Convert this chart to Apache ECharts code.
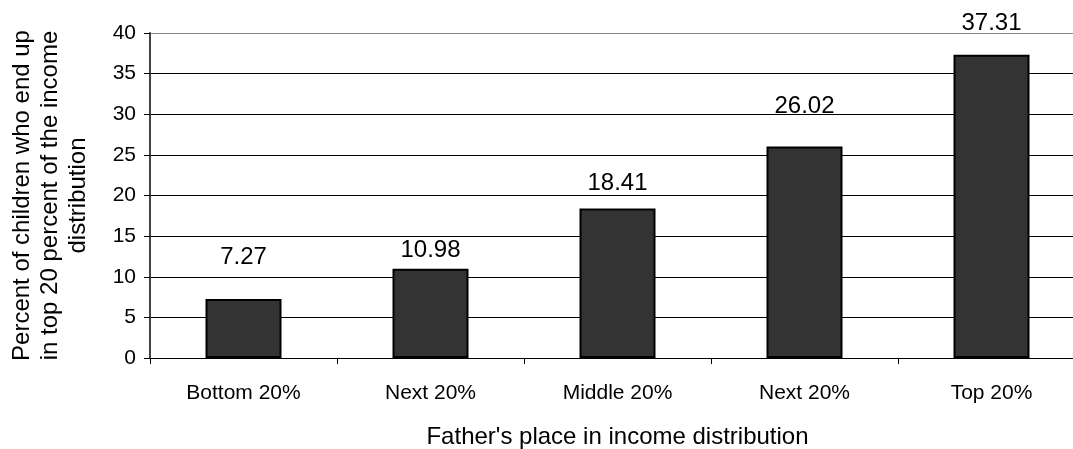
<!DOCTYPE html>
<html>
<head>
<meta charset="utf-8">
<script src="https://cdn.jsdelivr.net/npm/echarts@6/dist/echarts.min.js"></script>
<style>
  html, body { margin: 0; padding: 0; background: #fff; }
  #chart { width: 1073px; height: 449px; }
</style>
</head>
<body>
<div id="chart"></div>
<script>
// father's income quintile
var categories = ['Bottom 20%', 'Next 20%', 'Middle 20%', 'Next 20%', 'Top 20%'];
// percent of children ending up in top 20%
var values = [7.27, 10.98, 18.41, 26.02, 37.31];
var yTicks = [0, 5, 10, 15, 20, 25, 30, 35, 40];

// the original labels sit at uneven heights above the bars
var labelLift = [30, 6, 13, 28, 19];

var chart = echarts.init(document.getElementById('chart'));
var font = 'Arial, "Liberation Sans", sans-serif';

var barData = values.map(function (v, i) {
    return { value: v, label: { offset: [0, -labelLift[i]] } };
});

var option = {
    animation: false,
    backgroundColor: '#fff',
    grid: { left: 150, right: -12, top: 33, bottom: 91, containLabel: false, outerBoundsMode: 'none' },
    xAxis: {
        type: 'category',
        data: categories,
        name: "Father's place in income distribution",
        nameLocation: 'middle',
        nameGap: 67,
        nameTextStyle: { color: '#000', fontSize: 24, fontFamily: font },
        axisLine: { lineStyle: { color: '#000', width: 1 } },
        axisTick: { show: true, length: 6, lineStyle: { color: '#000' } },
        axisLabel: { color: '#000', fontSize: 21, fontFamily: font, margin: 25 }
    },
    yAxis: {
        type: 'value',
        min: yTicks[0],
        max: yTicks[yTicks.length - 1],
        interval: 5,
        name: 'Percent of children who end up\nin top 20 percent of the income\ndistribution',
        nameLocation: 'middle',
        nameGap: 58,
        nameTextStyle: { color: '#000', fontSize: 24, lineHeight: 28, fontFamily: font, align: 'center' },
        axisLine: { show: true, lineStyle: { color: '#444', width: 2 } },
        axisTick: { show: true, length: 6, lineStyle: { color: '#000' } },
        axisLabel: { color: '#000', fontSize: 21, fontFamily: font, margin: 14 },
        splitLine: {
            show: true,
            lineStyle: {
                color: ['#000', '#000', '#000', '#000', '#000', '#000', '#000', '#000', '#888'],
                width: 1
            }
        }
    },
    series: [{
        type: 'bar',
        data: barData,
        barWidth: 76,
        itemStyle: { color: '#333333', borderColor: '#000', borderWidth: 2 },
        label: {
            show: true,
            position: 'top',
            distance: 0,
            color: '#000',
            fontSize: 24,
            fontFamily: font,
            formatter: function (p) { return p.value.toFixed(2); }
        }
    }]
};
chart.setOption(option);
</script>
</body>
</html>
